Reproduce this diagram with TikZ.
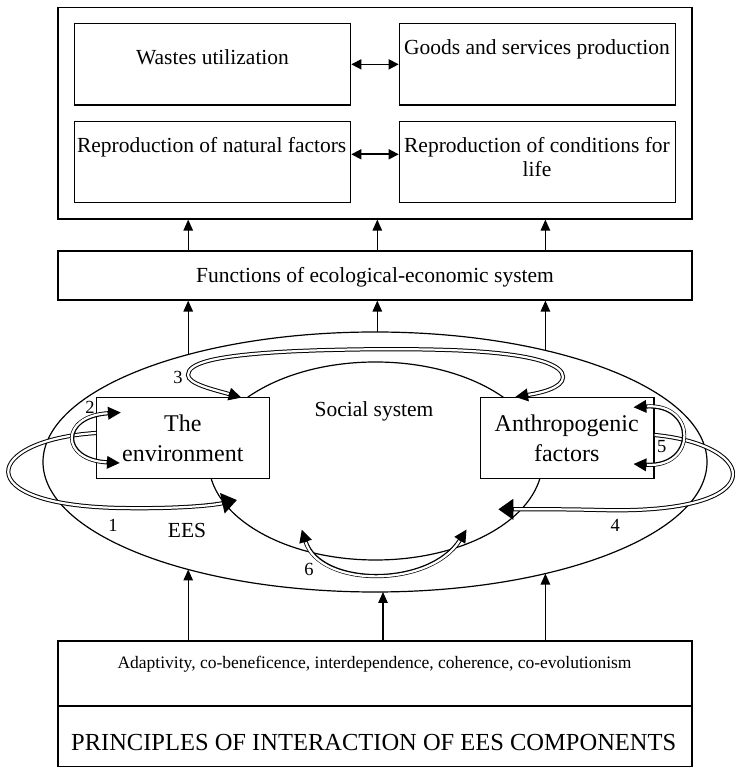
\documentclass[tikz,border=0pt]{standalone}
\usepackage{fontspec}
\setmainfont{Liberation Serif}
\usetikzlibrary{arrows.meta, shapes.geometric}

\begin{document}
\begin{tikzpicture}[x=1pt, y=1pt,
  box/.style={draw, line width=1.2pt, fill=white, inner sep=0pt, rectangle},
  oval/.style={draw, line width=1.2pt, ellipse, inner sep=0pt},
  lbl/.style={inner sep=0pt, anchor=base},
  txt/.style={font=\fontsize{21.5}{23.3}\selectfont},
  bigtxt/.style={font=\fontsize{24}{29.3}\selectfont, align=center, inner sep=0pt},
  numtxt/.style={font=\fontsize{18.5}{20}\selectfont},
  uparrow/.style={draw, line width=1.2pt, -{Triangle[length=11pt, width=9.5pt]}},
  twoway/.style={draw, line width=1.6pt, {Triangle[length=10pt, width=10pt]}-{Triangle[length=10pt, width=10pt]}},
  % double connectors: a black band with its tips, then a white core on top
  dblout/.style={draw=black, line width=4.2pt},
  dblin/.style={draw=white, line width=2.2pt},
  bighead/.style={dblout, -{Triangle[length=15pt, width=20pt]}},
  bigcore/.style={dblin, shorten >=15.5pt},
  smallheads/.style={dblout, {Triangle[length=13pt, width=12pt]}-{Triangle[length=13pt, width=12pt]}},
  smallcore/.style={dblin, shorten >=13.5pt, shorten <=13.5pt},
]
\useasboundingbox (0,0) rectangle (734,768);

% system ovals
\node[oval, minimum width=664pt, minimum height=260pt] (ees) at (375,306) {};
\node[oval, minimum width=334pt, minimum height=198pt] (social) at (375.5,307) {};

% boxes
\node[box, minimum width=634pt, minimum height=211.5pt] (top) at (375,654.75) {};
\node[box, minimum width=276.4pt, minimum height=81.3pt] (wastes) at (212.5,703.65) {};
\node[box, minimum width=276.4pt, minimum height=81.3pt] (goods) at (537.5,703.65) {};
\node[box, minimum width=276.4pt, minimum height=81pt] (natural) at (212.5,606.2) {};
\node[box, minimum width=276.4pt, minimum height=81pt] (cond) at (537.5,606.2) {};
\node[box, minimum width=634pt, minimum height=49pt] (func) at (375,492.5) {};
\node[box, minimum width=172.6pt, minimum height=81pt] (env) at (183,329.8) {};
\node[box, minimum width=173.3pt, minimum height=81pt] (anth) at (567.35,329.8) {};
\node[box, minimum width=634pt, minimum height=65pt] (adapt) at (375,94.5) {};
\node[box, minimum width=634pt, minimum height=60.5pt] (princ) at (375,31.75) {};

% texts
\node[lbl, txt] (wastes-t) at (212.5,703) {Wastes utilization};
\node[lbl, txt] (goods-t) at (536.9,713) {Goods and services production};
\node[lbl, txt] (natural-t) at (211.7,615.3) {Reproduction of natural factors};
\node[txt, align=center, inner sep=0pt] (cond-t) at (537,611) {Reproduction of conditions for\\life};
\node[lbl, txt] (func-t) at (375,485) {Functions of ecological-economic system};
\node[bigtxt] (env-t) at (182.8,329.85) {The\\environment};
\node[bigtxt] (anth-t) at (566.7,329.85) {Anthropogenic\\factors};
\node[lbl, txt] (social-t) at (374,351) {Social system};
\node[lbl, txt] (ees-t) at (187,230.3) {EES};
\node[lbl, font=\fontsize{17.5}{20}\selectfont] (adapt-t) at (374.5,99) {Adaptivity, co-beneficence, interdependence, coherence, co-evolutionism};
\node[lbl, font=\fontsize{24.5}{28}\selectfont] (princ-t) at (373.7,17.3) {PRINCIPLES OF INTERACTION OF EES COMPONENTS};
\node[lbl, numtxt] (n1) at (113,236.3) {1};
\node[lbl, numtxt] (n2) at (90,354.7) {2};
\node[lbl, numtxt] (n3) at (178,384) {3};
\node[lbl, numtxt] (n4) at (615.3,236.3) {4};
\node[lbl, numtxt] (n5) at (661.7,315.3) {5};
\node[lbl, numtxt] (n6) at (309,192) {6};

% columns of the vertical arrows
\coordinate (x1) at (188.2,0);
\coordinate (x2) at (377.3,0);
\coordinate (x3) at (545.4,0);
\coordinate (x5) at (383,0);
% points on the EES oval
\coordinate (e1) at (188.2,413.5);
\coordinate (e2) at (377.3,436);
\coordinate (e3) at (545.4,417.6);
\coordinate (b1) at (188.2,198.5);
\coordinate (b2) at (383,176);
\coordinate (b3) at (545.4,194.4);

\draw[uparrow] (x1 |- func.north) -- (x1 |- top.south);
\draw[uparrow] (x2 |- func.north) -- (x2 |- top.south);
\draw[uparrow] (x3 |- func.north) -- (x3 |- top.south);
\draw[uparrow] (e1) -- (x1 |- func.south);
\draw[uparrow] (e2) -- (x2 |- func.south);
\draw[uparrow] (e3) -- (x3 |- func.south);
\draw[uparrow] (x1 |- adapt.north) -- (b1);
\draw[uparrow] (x5 |- adapt.north) -- (b2);
\draw[uparrow] (x3 |- adapt.north) -- (b3);

\draw[twoway] (wastes.east) -- (goods.west);
\draw[twoway] ([yshift=7.5pt]natural.east) -- ([yshift=7.5pt]cond.west);

% interaction loops
\coordinate (a1s) at ([yshift=5.2pt]env.west);
\coordinate (a1e) at (237,268);
\coordinate (a2a) at (121,355.5);
\coordinate (a2b) at (120,305);
\coordinate (a3a) at (241.7,370.3);
\coordinate (a3b) at (515,371);
\coordinate (a4s) at ([yshift=3.2pt]anth.east);
\coordinate (a4e) at (498.3,258.7);
\coordinate (a5a) at (633.3,360.7);
\coordinate (a5b) at (633.3,304);
\coordinate (a6a) at (301.7,238.7);
\coordinate (a6b) at (466.7,238.7);

% loop 1
\draw[bighead] (a1s) .. controls (-15,328) and (-35,263) .. (120,260)
  .. controls (170,259) and (210,262) .. (a1e);
\draw[bigcore] (a1s) .. controls (-15,328) and (-35,263) .. (120,260)
  .. controls (170,259) and (210,262) .. (a1e);
% loop 2
\draw[smallheads] (a2a) .. controls (60,352) and (60,308) .. (a2b);
\draw[smallcore] (a2a) .. controls (60,352) and (60,308) .. (a2b);
% loop 3
\draw[smallheads] (a3a) .. controls (215,378) and (188,384) .. (188,393)
  .. controls (188,405) and (215,412) .. (280,416)
  .. controls (330,419) and (420,420) .. (470,417)
  .. controls (540,413) and (563,402) .. (563,391)
  .. controls (563,380) and (540,375) .. (a3b);
\draw[smallcore] (a3a) .. controls (215,378) and (188,384) .. (188,393)
  .. controls (188,405) and (215,412) .. (280,416)
  .. controls (330,419) and (420,420) .. (470,417)
  .. controls (540,413) and (563,402) .. (563,391)
  .. controls (563,380) and (540,375) .. (a3b);
% loop 4
\draw[bighead] (a4s) .. controls (760,323) and (775,253) .. (600,258)
  .. controls (560,259) and (530,258.7) .. (a4e);
\draw[bigcore] (a4s) .. controls (760,323) and (775,253) .. (600,258)
  .. controls (560,259) and (530,258.7) .. (a4e);
% loop 5
\draw[smallheads] (a5a) .. controls (697,365) and (697,300) .. (a5b);
\draw[smallcore] (a5a) .. controls (697,365) and (697,300) .. (a5b);
% loop 6
\draw[smallheads] (a6a) .. controls (320,180) and (430,180) .. (a6b);
\draw[smallcore] (a6a) .. controls (320,180) and (430,180) .. (a6b);
\end{tikzpicture}
\end{document}
